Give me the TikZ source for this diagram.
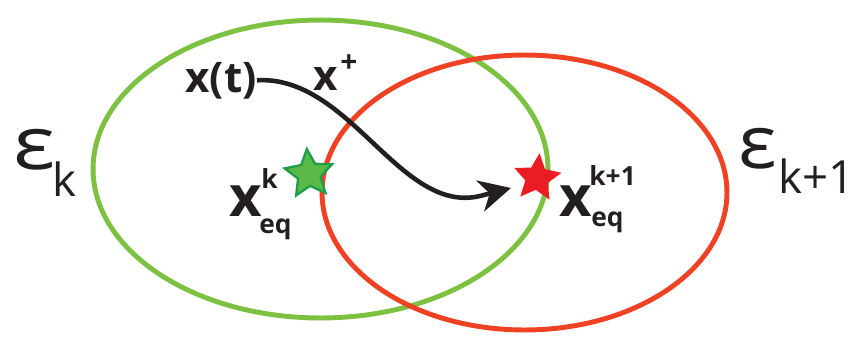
\documentclass[tikz,border=0pt]{standalone}
\usepackage{fontspec}
\setmainfont{Open Sans}
\usetikzlibrary{arrows.meta,shapes.geometric}
\definecolor{cSetK}{HTML}{7DC143}
\definecolor{cSetN}{HTML}{EF4123}
\definecolor{cStarK}{HTML}{5BB947}
\definecolor{cStarKd}{HTML}{1E9E48}
\definecolor{cStarN}{HTML}{EC1C24}
\definecolor{cTraj}{HTML}{231F20}
\tikzset{
  setk/.style={draw=cSetK, line width=2.8pt},
  setn/.style={draw=cSetN, line width=2.8pt},
  pt/.style={star, star points=5, star point ratio=2.1, minimum size=1.0cm, inner sep=0pt},
  ptk/.style={pt, fill=cStarK, draw=cStarKd, line width=1.3pt},
  ptn/.style={pt, fill=cStarN},
  lbl/.style={inner sep=0pt, anchor=base west, text=cTraj, font=\bfseries\fontsize{24}{24}\selectfont},
  bigx/.style={lbl, font=\bfseries\fontsize{32}{32}\selectfont},
  sml/.style={lbl, font=\bfseries\fontsize{15}{15}\selectfont},
  pls/.style={lbl, font=\bfseries\fontsize{17}{17}\selectfont},
  eps/.style={inner sep=0pt, anchor=base west, text=cTraj, font=\fontsize{42}{42}\selectfont},
  epsi/.style={inner sep=0pt, anchor=base west, text=cTraj, font=\fontsize{26}{26}\selectfont},
  ar/.style={-{Stealth[length=18pt, width=18pt, inset=5.5pt]}, line width=2.6pt, cTraj},
}

\begin{document}
\begin{tikzpicture}[x=0.02cm, y=-0.02cm]
  \useasboundingbox (0,0) rectangle (854,352);
  % the two sets
  \draw[setk] (320.5,169) ellipse [x radius=4.55cm, y radius=2.98cm];
  \draw[setn] (524.5,192.5) ellipse [x radius=4.05cm, y radius=2.75cm];

  % labels of the sets
  \node[eps] (ek) at (13,169) {\scalebox{1.2}[1]{ε}};
  \node[epsi] (eks) at (52,196) {k};
  \node[eps] (en) at (738,168) {\scalebox{1.1}[1]{ε}};
  \node[epsi] (ens) at (778,193) {k+1};

  % trajectory
  \node[lbl] (xt) at (185,92) {x(t)};
  \node[lbl] (xp) at (313,90) {x};
  \node[pls] (xpp) at (340,72) {+};
  \coordinate (tip) at (511,188);
  \draw[ar] (xt.east) .. controls (350,75) and (400,215) .. (480,196) -- (tip);

  % equilibria
  \node[ptk, rotate=5] (sk) at (309,174) {};
  \node[ptn, rotate=-6] (sn) at (537,178) {};
  \node[bigx] (xk) at (229,216) {x};
  \node[sml] (xks) at (261,188) {k};
  \node[sml] (xkb) at (259,233) {eq};
  \node[bigx] (xn) at (559,216) {x};
  \node[sml] (xns) at (589,185) {k+1};
  \node[sml] (xnb) at (591,226) {eq};
\end{tikzpicture}
\end{document}
